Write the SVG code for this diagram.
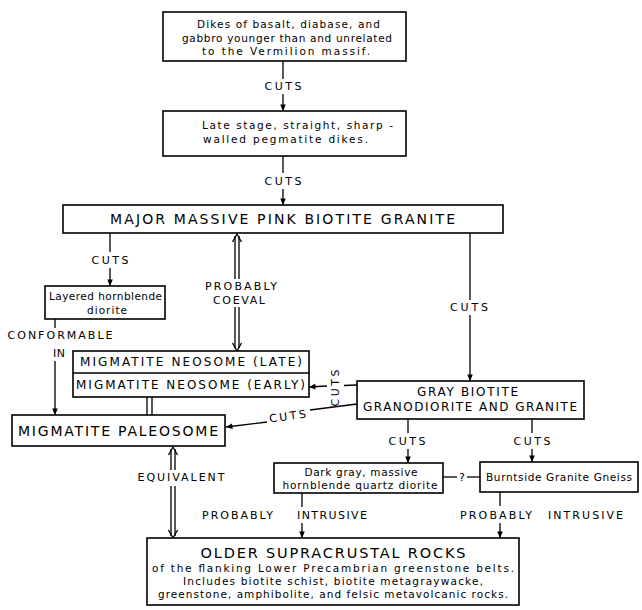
<svg xmlns="http://www.w3.org/2000/svg" width="642" height="610" viewBox="0 0 642 610">
<style>
.box{fill:#fff;stroke:#000;stroke-width:1.6}
.ln{stroke:#000;stroke-width:1.3;fill:none}
text{font-family:"DejaVu Sans","Liberation Sans",sans-serif;fill:#000}
.s{font-size:10.5px}
.l{font-size:11px}
.m{font-size:12px}
.b{font-size:14px}
</style>
<defs>
<marker id="ah" viewBox="0 0 8 10" refX="8" refY="5" markerWidth="8" markerHeight="8" orient="auto" markerUnits="userSpaceOnUse"><path d="M0,1.5 L8,5 L0,8.5 z" fill="#000"/></marker>
</defs>
<rect width="642" height="610" fill="#fff"/>

<g id="connectors">
<line class="ln" x1="283" y1="61" x2="283" y2="79"/>
<line class="ln" x1="283" y1="94" x2="283" y2="111" marker-end="url(#ah)"/>
<line class="ln" x1="283" y1="156" x2="283" y2="173"/>
<line class="ln" x1="283" y1="189" x2="283" y2="205" marker-end="url(#ah)"/>
<line class="ln" x1="110" y1="233" x2="110" y2="252"/>
<line class="ln" x1="110" y1="268" x2="110" y2="286" marker-end="url(#ah)"/>
<path class="ln" d="M235,236 V279 M239,236 V279 M235,307 V348 M239,307 V348"/>
<path class="ln" d="M232.5,242 L237,234 L241.5,242"/>
<path class="ln" d="M232.5,343 L237,351 L241.5,343"/>
<line class="ln" x1="470" y1="233" x2="470" y2="300"/>
<line class="ln" x1="470" y1="315" x2="470" y2="381" marker-end="url(#ah)"/>
<line class="ln" x1="55" y1="319" x2="55" y2="328"/>
<line class="ln" x1="55" y1="361" x2="55" y2="415" marker-end="url(#ah)"/>
<path class="ln" d="M147,397 V415 M152,397 V415"/>
<line class="ln" x1="357" y1="385" x2="344" y2="385.5"/>
<line class="ln" x1="327" y1="386" x2="309" y2="387" marker-end="url(#ah)"/>
<line class="ln" x1="357" y1="404" x2="310" y2="410"/>
<line class="ln" x1="267" y1="422" x2="226" y2="427" marker-end="url(#ah)"/>
<line class="ln" x1="408" y1="419" x2="408" y2="433"/>
<line class="ln" x1="408" y1="449" x2="408" y2="463" marker-end="url(#ah)"/>
<line class="ln" x1="532" y1="419" x2="532" y2="433"/>
<line class="ln" x1="532" y1="449" x2="532" y2="462" marker-end="url(#ah)"/>
<line class="ln" x1="443" y1="477" x2="457" y2="477"/>
<line class="ln" x1="467" y1="477" x2="480" y2="477"/>
<path class="ln" d="M171,449 V470 M175,449 V470 M171,486 V536 M175,486 V536"/>
<path class="ln" d="M168.5,455 L173,447 L177.5,455"/>
<path class="ln" d="M168.5,530 L173,538 L177.5,530"/>
<line class="ln" x1="302" y1="493" x2="302" y2="507"/>
<line class="ln" x1="302" y1="523" x2="302" y2="538" marker-end="url(#ah)"/>
<line class="ln" x1="500" y1="492" x2="500" y2="506"/>
<line class="ln" x1="500" y1="523" x2="500" y2="538" marker-end="url(#ah)"/>
</g>

<g id="labels">
<text class="l" x="283" y="90" text-anchor="middle" textLength="37">CUTS</text>
<text class="l" x="283" y="185" text-anchor="middle" textLength="37">CUTS</text>
<text class="l" x="110" y="264" text-anchor="middle" textLength="37">CUTS</text>
<text class="l" x="241" y="290" text-anchor="middle" textLength="72">PROBABLY</text>
<text class="l" x="239" y="304" text-anchor="middle" textLength="52">COEVAL</text>
<text class="l" x="469" y="311" text-anchor="middle" textLength="38">CUTS</text>
<text class="l" x="60" y="339" text-anchor="middle" textLength="105">CONFORMABLE</text>
<text class="l" x="59" y="357" text-anchor="middle" textLength="12">IN</text>
<text class="l" transform="translate(339,388) rotate(-90)" x="0" y="0" text-anchor="middle" textLength="37">CUTS</text>
<text class="l" transform="translate(288,420) rotate(-8)" x="0" y="0" text-anchor="middle" textLength="37">CUTS</text>
<text class="l" x="407" y="445" text-anchor="middle" textLength="37">CUTS</text>
<text class="l" x="532" y="445" text-anchor="middle" textLength="37">CUTS</text>
<text class="l" x="462" y="481" text-anchor="middle">?</text>
<text class="l" x="181" y="481" text-anchor="middle" textLength="87">EQUIVALENT</text>
<text class="l" x="202" y="519" textLength="71">PROBABLY</text>
<text class="l" x="297" y="519" textLength="70">INTRUSIVE</text>
<text class="l" x="460" y="519" textLength="72">PROBABLY</text>
<text class="l" x="548" y="519" textLength="75">INTRUSIVE</text>
</g>

<g id="dikes">
<rect class="box" x="163" y="12" width="243" height="49"/>
<text class="s" x="197" y="28" textLength="183">Dikes of basalt, diabase, and</text>
<text class="s" x="182" y="41.5" textLength="210">gabbro younger than and unrelated</text>
<text class="s" x="202" y="55" textLength="168">to the Vermilion massif.</text>
</g>

<g id="pegmatite">
<rect class="box" x="163" y="111" width="243" height="45"/>
<text class="s" x="202" y="129" textLength="191">Late stage, straight, sharp -</text>
<text class="s" x="203" y="143" textLength="165">walled pegmatite dikes.</text>
</g>

<g id="granite">
<rect class="box" x="63" y="205" width="440" height="28"/>
<text class="b" x="110" y="224" textLength="345">MAJOR MASSIVE PINK BIOTITE GRANITE</text>
</g>

<g id="layered">
<rect class="box" x="45" y="286" width="120" height="33"/>
<text class="s" x="49" y="300" textLength="113">Layered hornblende</text>
<text class="s" x="107" y="314" text-anchor="middle" textLength="40">diorite</text>
</g>

<g id="neosome">
<rect class="box" x="73" y="351" width="236" height="46"/>
<line class="ln" x1="73" y1="373" x2="309" y2="373" style="stroke-width:1.6"/>
<text class="m" x="80" y="366" textLength="222">MIGMATITE NEOSOME (LATE)</text>
<text class="m" x="76" y="389" textLength="229">MIGMATITE NEOSOME (EARLY)</text>
</g>

<g id="paleosome">
<rect class="box" x="12" y="415" width="213" height="31"/>
<text class="b" x="18" y="436" textLength="200">MIGMATITE PALEOSOME</text>
</g>

<g id="gray">
<rect class="box" x="357" y="381" width="227" height="38"/>
<text class="m" x="467.5" y="396" text-anchor="middle" textLength="101">GRAY BIOTITE</text>
<text class="m" x="470" y="411" text-anchor="middle" textLength="214">GRANODIORITE AND GRANITE</text>
</g>

<g id="darkgray">
<rect class="box" x="274" y="463" width="169" height="30"/>
<text class="s" x="361" y="476" text-anchor="middle" textLength="113">Dark gray, massive</text>
<text class="s" x="360" y="489" text-anchor="middle" textLength="155">hornblende quartz diorite</text>
</g>

<g id="burntside">
<rect class="box" x="480" y="462" width="158" height="30"/>
<text class="s" x="559" y="481" text-anchor="middle" textLength="146">Burntside Granite Gneiss</text>
</g>

<g id="supracrustal">
<rect class="box" x="147" y="538" width="372" height="67"/>
<text style="font-size:14.5px" x="333" y="558" text-anchor="middle" textLength="265">OLDER SUPRACRUSTAL ROCKS</text>
<text class="s" x="333" y="572" text-anchor="middle" textLength="362">of the flanking Lower Precambrian greenstone belts.</text>
<text class="s" x="333" y="585" text-anchor="middle" textLength="300">Includes biotite schist, biotite metagraywacke,</text>
<text class="s" x="333" y="598" text-anchor="middle" textLength="350">greenstone, amphibolite, and felsic metavolcanic rocks.</text>
</g>
</svg>
